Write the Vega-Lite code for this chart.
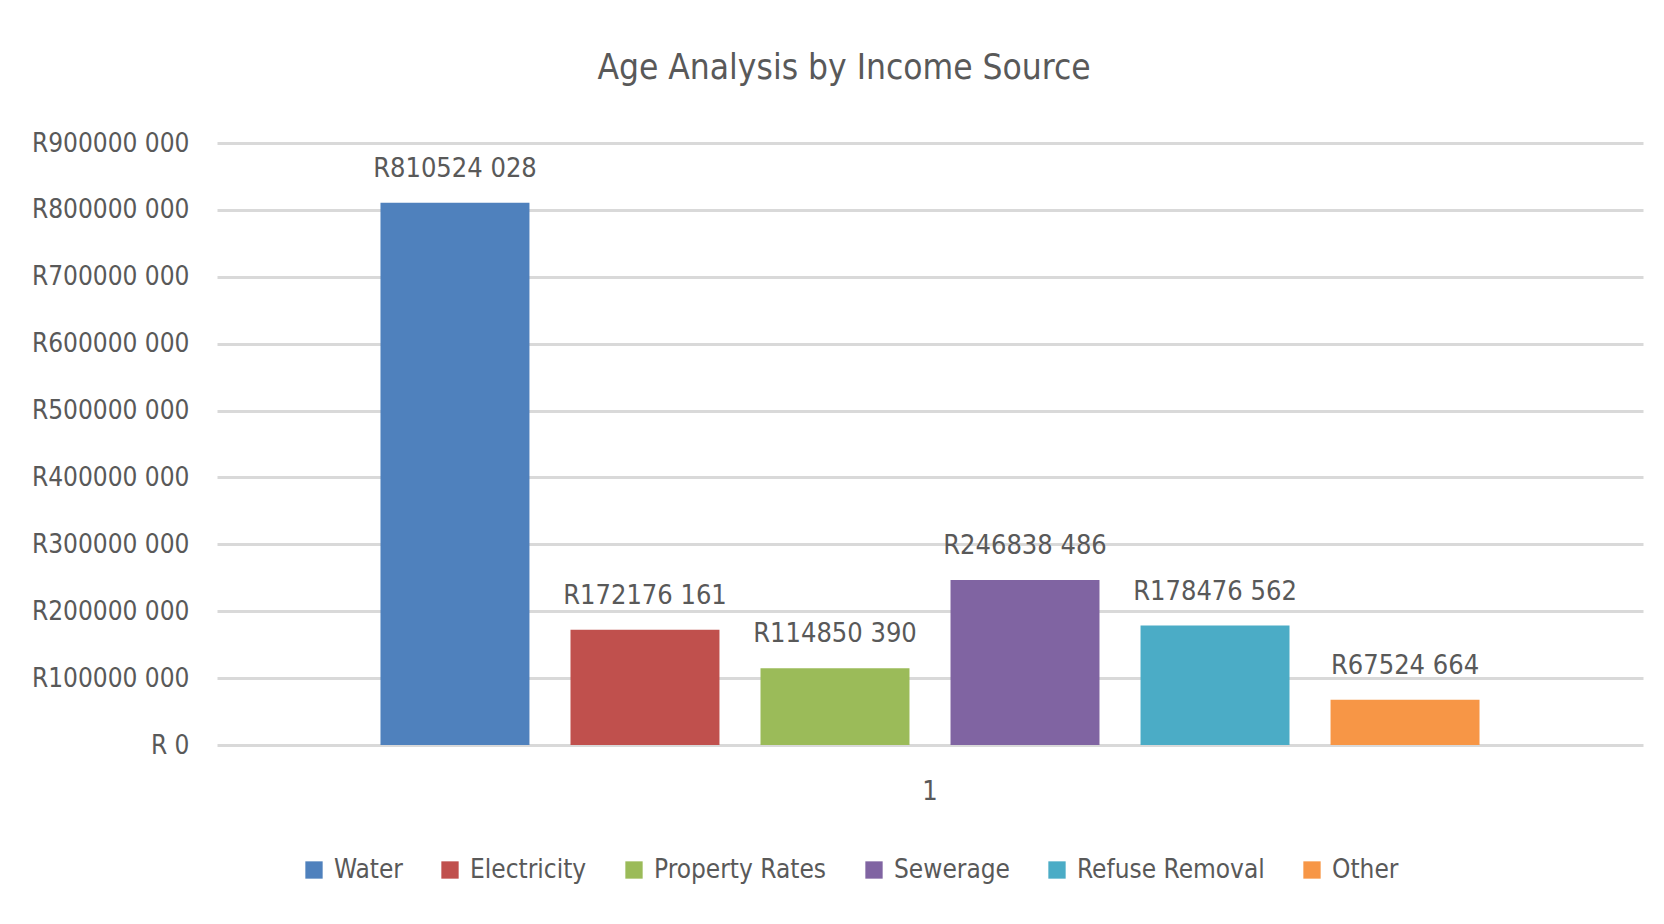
{
  "$schema": "https://vega.github.io/schema/vega-lite/v6.json",
  "width": 1426,
  "height": 602,
  "autosize": {"type": "none"},
  "padding": {"left": 217, "top": 143, "right": 21, "bottom": 179},
  "background": "white",
  "config": {
    "font": "DejaVu Sans Condensed, DejaVu Sans, sans-serif",
    "view": {"stroke": null}
  },
  "title": {
    "text": "Age Analysis by Income Source",
    "fontSize": 35,
    "fontWeight": "normal",
    "color": "#595959",
    "anchor": "middle",
    "baseline": "alphabetic",
    "offset": 16,
    "dx": -86
  },
  "data": {
    "values": [
      {"cat": "1", "source": "Water", "value": 810524028, "label": "R810524 028"},
      {"cat": "1", "source": "Electricity", "value": 172176161, "label": "R172176 161"},
      {"cat": "1", "source": "Property Rates", "value": 114850390, "label": "R114850 390"},
      {"cat": "1", "source": "Sewerage", "value": 246838486, "label": "R246838 486"},
      {"cat": "1", "source": "Refuse Removal", "value": 178476562, "label": "R178476 562"},
      {"cat": "1", "source": "Other", "value": 67524664, "label": "R67524 664"}
    ]
  },
  "encoding": {
    "x": {
      "field": "cat",
      "type": "nominal",
      "scale": {"paddingInner": 0, "paddingOuter": 0.1254},
      "axis": {
        "title": null,
        "labelAngle": 0,
        "labelFontSize": 27,
        "labelColor": "#595959",
        "labelPadding": 33,
        "ticks": false,
        "domain": false,
        "grid": false
      }
    },
    "xOffset": {
      "field": "source",
      "type": "nominal",
      "sort": ["Water", "Electricity", "Property Rates", "Sewerage", "Refuse Removal", "Other"],
      "scale": {"paddingInner": 0.216, "paddingOuter": 0.108}
    },
    "y": {
      "field": "value",
      "type": "quantitative",
      "scale": {"domain": [0, 900000000], "nice": false},
      "axis": {
        "title": null,
        "values": [0, 100000000, 200000000, 300000000, 400000000, 500000000, 600000000, 700000000, 800000000, 900000000],
        "labelExpr": "datum.value == 0 ? 'R 0' : 'R' + format(datum.value / 1000, 'd') + ' 000'",
        "labelFontSize": 26,
        "labelColor": "#595959",
        "labelPadding": 28,
        "ticks": false,
        "domain": false,
        "grid": true,
        "gridColor": "#d9d9d9",
        "gridWidth": 3
      }
    }
  },
  "layer": [
    {
      "mark": {"type": "bar"},
      "encoding": {
        "color": {
          "field": "source",
          "type": "nominal",
          "sort": ["Water", "Electricity", "Property Rates", "Sewerage", "Refuse Removal", "Other"],
          "scale": {
            "domain": ["Water", "Electricity", "Property Rates", "Sewerage", "Refuse Removal", "Other"],
            "range": ["#4F81BD", "#C0504D", "#9BBB59", "#8064A2", "#4BACC6", "#F79646"]
          },
          "legend": {
            "title": null,
            "orient": "none",
            "direction": "horizontal",
            "legendX": 84,
            "legendY": 714,
            "padding": 0,
            "symbolType": "square",
            "symbolSize": 300,
            "symbolStrokeWidth": 0,
            "labelFontSize": 26,
            "labelColor": "#595959",
            "labelOffset": 7,
            "columnPadding": 34,
            "labelLimit": 400
          }
        }
      }
    },
    {
      "mark": {"type": "text", "baseline": "alphabetic", "dy": -26, "fontSize": 27, "color": "#595959"},
      "encoding": {
        "text": {"field": "label", "type": "nominal"}
      }
    }
  ]
}
